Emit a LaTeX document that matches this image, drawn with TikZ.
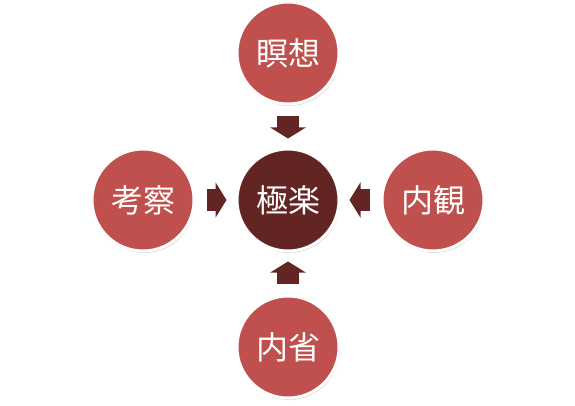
\documentclass[tikz,border=0pt]{standalone}
\usepackage{fontspec}
\usepackage{tikz}
\usetikzlibrary{positioning, arrows.meta, shadows}
\newfontfamily\jpfont{Noto Sans CJK JP}
\definecolor{LotusRed}{RGB}{192,80,77}
\definecolor{LotusDark}{RGB}{99,37,35}

\begin{document}
\begin{tikzpicture}[x=1pt, y=1pt, node distance=42pt and 40pt,
  every node/.style={font=\jpfont\fontsize{32}{36}\selectfont, text=white},
  orb/.style={circle, draw=white, line width=3pt, minimum size=102pt, inner sep=0pt,
    fill=LotusRed, drop shadow={opacity=0.3, shadow xshift=1pt, shadow yshift=-2pt}},
  hub/.style={orb, fill=LotusDark},
  push/.style={-{Triangle[width=35pt, length=11pt]}, line width=22pt, LotusDark,
    shorten <=11pt, shorten >=9pt}]
\useasboundingbox (0,0) rectangle (575,405);

% centre of the diagram
\node[hub] (gokuraku) at (288,205) {極楽};

% four ways in
\node[orb, above=of gokuraku] (meiso) {瞑想};
\node[orb, left=of gokuraku] (kosatsu) {考察};
\node[orb, right=of gokuraku] (naikan) {内観};
\node[orb, below=of gokuraku] (naisei) {内省};

% block arrows towards the centre
\draw[push] (meiso) -- (gokuraku);
\draw[push] (kosatsu) -- (gokuraku);
\draw[push] (naikan) -- (gokuraku);
\draw[push] (naisei) -- (gokuraku);
\end{tikzpicture}
\end{document}
